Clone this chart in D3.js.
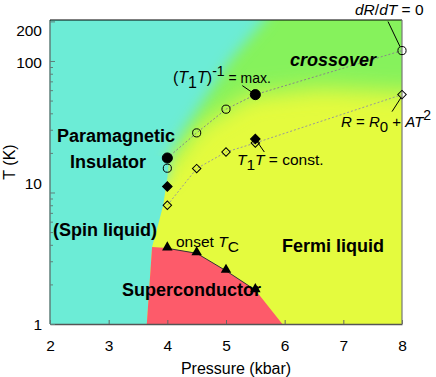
<!DOCTYPE html>
<html><head><meta charset="utf-8">
<script src="https://cdn.jsdelivr.net/npm/d3@7"></script>
<style>
body{margin:0;background:#fff;}
svg{display:block;font-family:"Liberation Sans",Arial,Helvetica,sans-serif;}
</style></head>
<body><svg id="c" width="436" height="377"></svg>
<script>
// ---------- data ----------
const pressureTicks = [2, 3, 4, 5, 6, 7, 8];
const tempTicks = [1, 10, 100, 200];
const tempMinorTicks = [2, 3, 4, 5, 6, 7, 8, 9, 20, 30, 40, 50, 60, 70, 80, 90];

// (T1T)^-1 = max. and dR/dT = 0 (circles)
const circleP = [4.0, 4.0, 4.5, 5.0, 5.5, 8.0];
const circleT = [18.3, 15.3, 28.4, 43.0, 55.5, 120];
const circleFilled = [true, false, false, false, true, false];
const maxLineP = [4.0, 4.5, 5.0, 5.5, 8.0];
const maxLineT = [18.3, 28.4, 43.0, 55.5, 120];

// T1T = const. and R = R0 + AT^2 (diamonds)
const diamondP = [4.0, 4.0, 4.5, 5.0, 5.5, 5.5, 8.0];
const diamondT = [11.1, 8.0, 15.2, 20.3, 25.5, 23.8, 55.5];
const diamondFilled = [true, false, false, false, true, false, false];
const constLineP = [4.0, 4.5, 5.0, 5.5, 8.0];
const constLineT = [8.0, 15.2, 20.3, 23.8, 55.5];

// onset Tc (triangles)
const tcP = [4.0, 4.5, 5.0, 5.5];
const tcT = [3.76, 3.45, 2.54, 1.81];

// superconducting dome boundary
const scP = [3.65, 3.74, 4.0, 4.5, 5.0, 5.5, 5.96];
const scT = [1.0, 3.85, 3.78, 3.45, 2.54, 1.81, 1.0];

// insulator / metal boundary (sharp lower part, diffuse upper part)
const insLowP = [3.63, 3.65, 3.74, 3.82, 3.93, 4.0, 4.03];
const insLowT = [0.8, 1.0, 3.85, 5.2, 8.0, 13, 19];
const insHighP = [3.98, 4.03, 4.30, 4.68, 5.07, 5.66, 6.0];
const insHighT = [12, 19, 31, 55, 101, 205, 400];

// crossover (green) edge
const crossP = [3.9, 4.01, 4.56, 5.41, 6.6, 8.0, 9.0];
const crossT = [12, 16.2, 32.6, 55, 62.4, 58.1, 57];

// ---------- setup ----------
const svg = d3.select("#c");
const L = 50, R = 402, T = 20, B = 324;
const x = d3.scaleLinear().domain([2, 8]).range([L, R]);
const y = d3.scaleLog().domain([1, 200]).range([B, 21.4]);

const colTeal = "#6cecd6", colYellow = "#e4fb3e", colGreen = "#86f25c", colRed = "#fd5b6a";

const defs = svg.append("defs");
defs.append("clipPath").attr("id", "plot").append("rect")
  .attr("x", L).attr("y", T).attr("width", R - L).attr("height", B - T);
function blur(id, sd) {
  defs.append("filter").attr("id", id).attr("filterUnits", "userSpaceOnUse")
    .attr("x", -200).attr("y", -200).attr("width", 900).attr("height", 900)
    .append("feGaussianBlur").attr("stdDeviation", sd);
}
blur("bG", 11);
blur("bT", 7);

const poly = (ps, ts) => ps.map((p, i) => [x(p), y(ts[i])]);
const pathOf = pts => "M" + pts.map(d => d.join(",")).join("L") + "Z";

const bg = svg.append("g").attr("clip-path", "url(#plot)");
bg.append("rect").attr("x", L).attr("y", T).attr("width", R - L).attr("height", B - T).attr("fill", colYellow);

// green crossover region
{
  const pts = poly(crossP, crossT);
  pts.push([x(9), y(600)], [x(3.9), y(600)]);
  bg.append("path").attr("d", pathOf(pts)).attr("fill", colGreen).attr("filter", "url(#bG)");
}
// diffuse teal (upper)
{
  const pts = poly(insHighP, insHighT);
  pts.push([x(0.5), y(400)], [x(0.5), y(12)]);
  bg.append("path").attr("d", pathOf(pts)).attr("fill", colTeal).attr("filter", "url(#bT)");
}
// sharp teal (lower)
{
  const pts = poly(insLowP, insLowT);
  pts.push([x(0.5), y(19)], [x(0.5), y(0.8)]);
  bg.append("path").attr("d", pathOf(pts)).attr("fill", colTeal);
}
// superconductor
{
  const pts = poly(scP, scT);
  pts.push([x(5.99), y(0.8)], [x(3.63), y(0.8)]);
  bg.append("path").attr("d", pathOf(pts)).attr("fill", colRed);
}

// ---------- axes ----------
const xAxis = svg.append("g").attr("transform", `translate(0,${B})`)
  .call(d3.axisBottom(x).tickValues(pressureTicks).tickFormat(d3.format("d"))
    .tickSizeInner(-4).tickSizeOuter(0).tickPadding(16));
xAxis.select(".domain").attr("stroke", "#555").attr("stroke-width", 1.5);
xAxis.selectAll(".tick line").attr("stroke", "#666");
xAxis.selectAll("text").attr("font-size", 15.5).attr("fill", "#000");

const yMinor = svg.append("g").attr("transform", `translate(${L},0)`)
  .call(d3.axisLeft(y).tickValues(tempMinorTicks).tickFormat("").tickSizeInner(-3).tickSizeOuter(0));
yMinor.select(".domain").remove();
yMinor.selectAll(".tick line").attr("stroke", "#607f7a");

const yAxis = svg.append("g").attr("transform", `translate(${L},0)`)
  .call(d3.axisLeft(y).tickValues(tempTicks).tickFormat(d3.format("d"))
    .tickSizeInner(-5).tickSizeOuter(0).tickPadding(8));
yAxis.select(".domain").attr("stroke", "#5f7f7a").attr("stroke-width", 1.5)
  .attr("d", `M0,${B}V${T}`);
yAxis.selectAll(".tick line").attr("stroke", "#5f7f7a");
const labelShift = {1: 0, 10: -9, 100: 2, 200: 9};
yAxis.selectAll(".tick text").attr("font-size", 15.5).attr("fill", "#000")
  .attr("dy", d => (labelShift[d] + 5) + "px");

// frame top/right
svg.append("line").attr("x1", L).attr("x2", R).attr("y1", T).attr("y2", T).attr("stroke", "#000").attr("stroke-width", 1.2);
svg.append("line").attr("x1", R).attr("x2", R).attr("y1", T).attr("y2", B).attr("stroke", "#777").attr("stroke-width", 1.2);

svg.append("text").attr("x", 236).attr("y", 374).attr("text-anchor", "middle")
  .attr("font-size", 16).text("Pressure (kbar)");
svg.append("text").attr("transform", "translate(15,162) rotate(-90)").attr("text-anchor", "middle")
  .attr("font-size", 16).text("T (K)");

// ---------- lines ----------
const line = d3.line().x(d => x(d[0])).y(d => y(d[1]));
svg.append("path").attr("d", line(maxLineP.map((p, i) => [p, maxLineT[i]])))
  .attr("fill", "none").attr("stroke", "#888").attr("stroke-width", 1).attr("stroke-dasharray", "2,2");
svg.append("path").attr("d", line(constLineP.map((p, i) => [p, constLineT[i]])))
  .attr("fill", "none").attr("stroke", "#999").attr("stroke-width", 1).attr("stroke-dasharray", "2,2");
svg.append("path").attr("d", line(tcP.map((p, i) => [p, tcT[i]])))
  .attr("fill", "none").attr("stroke", "#333").attr("stroke-width", 1);

// ---------- leader lines (anchored to marker positions) ----------
function leader(p, t, dx1, dy1, dx2, dy2) {
  svg.append("line").attr("x1", x(p) + dx1).attr("y1", y(t) + dy1)
    .attr("x2", x(p) + dx2).attr("y2", y(t) + dy2).attr("stroke", "#000").attr("stroke-width", 1);
}
leader(circleP[4], circleT[4], -13, -9, 0, 0);
leader(diamondP[4], diamondT[4], 9, 13, 0, 0);
leader(diamondP[6], diamondT[6], -10, 17, -1, 3);
leader(circleP[5], circleT[5], -14, -29, -2, -4);

// ---------- markers ----------
const circ = d3.symbol().type(d3.symbolCircle);
circleP.forEach((p, i) => {
  svg.append("path").attr("transform", `translate(${x(p)},${y(circleT[i])})`)
    .attr("d", circ.size(circleFilled[i] ? 80 : 52)())
    .attr("fill", circleFilled[i] ? "#000" : "none").attr("stroke", "#000").attr("stroke-width", 1);
});
const sq = d3.symbol().type(d3.symbolSquare);
diamondP.forEach((p, i) => {
  svg.append("path").attr("transform", `translate(${x(p)},${y(diamondT[i])}) rotate(45)`)
    .attr("d", sq.size(diamondFilled[i] ? 46 : 36)())
    .attr("fill", diamondFilled[i] ? "#000" : "none").attr("stroke", "#000").attr("stroke-width", 1);
});
const tri = d3.symbol().type(d3.symbolTriangle).size(48);
tcP.forEach((p, i) => {
  svg.append("path").attr("transform", `translate(${x(p)},${y(tcT[i]) - 1})`)
    .attr("d", tri()).attr("fill", "#000");
});

// ---------- labels ----------
function bold(txt, px, py, italic) {
  svg.append("text").attr("x", px).attr("y", py).attr("font-size", 18).attr("font-weight", "bold")
    .attr("font-style", italic ? "italic" : "normal").text(txt);
}
bold("Paramagnetic", 57, 142);
bold("Insulator", 70, 168);
bold("(Spin liquid)", 53, 236);
bold("Superconductor", 122, 296);
bold("Fermi liquid", 282, 252);
bold("crossover", 290, 66, true);

function rich(px, py, parts, fs) {
  const t = svg.append("text").attr("x", px).attr("y", py).attr("font-size", fs || 15.5);
  parts.forEach(([s, style]) => {
    const ts = t.append("tspan").text(s);
    if (style.includes("i")) ts.attr("font-style", "italic");
    if (style.includes("sub")) ts.attr("dy", 5);
    if (style.includes("sup")) ts.attr("dy", -7).attr("font-size", 14);
    if (style.includes("back")) ts.attr("dy", style.includes("backsup") ? 7 : -5);
  });
}
rich(173, 83, [["(", ""], ["T", "i"], ["1", "sub"], ["T", "i back"], [")", ""], ["-1", "sup"], [" = max.", "backsup"]], 16);
rich(237, 165, [["T", "i"], ["1", "sub"], ["T", "i back"], [" = const.", ""]]);
rich(341, 127, [["R", "i"], [" = ", ""], ["R", "i"], ["0", "sub"], [" + ", "back"], ["AT", "i"], ["2", "sup"]], 15);
rich(355, 15, [["dR", "i"], ["/", ""], ["dT", "i"], [" = 0", ""]]);
rich(176, 247, [["onset ", ""], ["T", "i"], ["C", "sub"]]);
</script></body></html>
